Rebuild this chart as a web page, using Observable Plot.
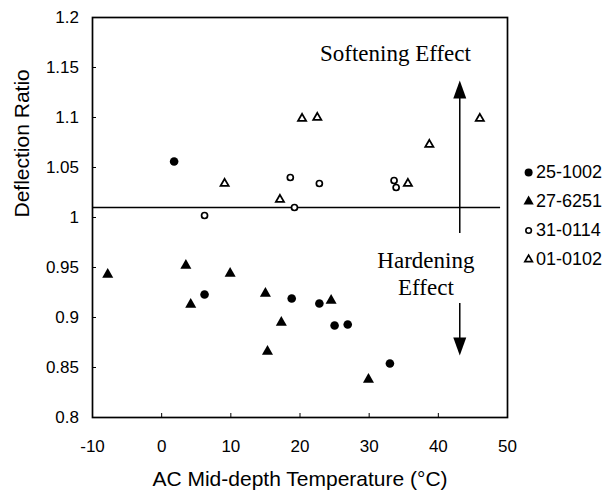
<!DOCTYPE html>
<html>
<head>
<meta charset="utf-8">
<script src="https://cdn.jsdelivr.net/npm/d3@7"></script>
<script src="https://cdn.jsdelivr.net/npm/@observablehq/plot@0.6"></script>
<style>
  html, body { margin: 0; padding: 0; background: #fff; }
  #wrap { position: relative; width: 610px; height: 497px; }
  #legend { position: absolute; left: 518px; top: 157px; }
</style>
</head>
<body>
<div id="wrap"><div id="chart"></div><div id="legend"></div></div>
<script>
const seriesNames = ["25-1002", "27-6251", "31-0114", "01-0102"];

const s25_1002_x = [1.8, 6.2, 18.8, 22.8, 25.0, 26.9, 33.0];
const s25_1002_y = [1.056, 0.923, 0.919, 0.914, 0.892, 0.893, 0.854];

const s27_6251_x = [-7.8, 3.5, 4.2, 9.9, 15.0, 15.3, 17.3, 24.5, 29.9];
const s27_6251_y = [0.943, 0.952, 0.913, 0.944, 0.924, 0.866, 0.895, 0.917, 0.838];

const s31_0114_x = [6.2, 18.6, 19.2, 22.8, 33.6, 33.9];
const s31_0114_y = [1.002, 1.040, 1.010, 1.034, 1.037, 1.030];

const s01_0102_x = [9.1, 17.1, 20.3, 22.5, 35.6, 38.7, 46.0];
const s01_0102_y = [1.034, 1.018, 1.099, 1.100, 1.034, 1.073, 1.099];

const xTicks = [-10, 0, 10, 20, 30, 40, 50];
const yTicks = [0.8, 0.85, 0.9, 0.95, 1, 1.05, 1.1, 1.15, 1.2];
const yTickLabels = ["0.8", "0.85", "0.9", "0.95", "1", "1.05", "1.1", "1.15", "1.2"];

const xTitle = ["AC Mid-depth Temperature (°C)"];
const yTitle = ["Deflection Ratio"];

const baselineValue = [1.01];
const baselineXRange = [-10, 49];

const arrowX = [43.1];
const upShaft = [0.984, 1.13];
const upHeadY = [1.126];
const downShaft = [0.914, 0.875];
const downHeadY = [0.873];

const annotations = [
  {label: "Softening Effect", x: 33.8, y: 1.164},
  {label: "Hardening", x: 38.2, y: 0.957},
  {label: "Effect", x: 38.2, y: 0.930}
];

function toRows(name, xs, ys) { return xs.map((x, i) => ({series: name, x, y: ys[i]})); }
const s1 = toRows(seriesNames[0], s25_1002_x, s25_1002_y);
const s2 = toRows(seriesNames[1], s27_6251_x, s27_6251_y);
const s3 = toRows(seriesNames[2], s31_0114_x, s31_0114_y);
const s4 = toRows(seriesNames[3], s01_0102_x, s01_0102_y);

// elongated filled arrowhead symbol pointing up
const arrowHead = {
  draw(ctx) {
    ctx.moveTo(0, -11);
    ctx.lineTo(6.5, 7);
    ctx.lineTo(-6.5, 7);
    ctx.closePath();
  }
};

const sans = "'Liberation Sans', Arial, sans-serif";
const serif = "'Liberation Serif', 'Times New Roman', serif";

const chart = Plot.plot({
  width: 610,
  height: 497,
  marginLeft: 92,
  marginRight: 103,
  marginTop: 17,
  marginBottom: 80,
  style: {fontFamily: sans, fontSize: "17px", color: "#000", background: "#fff"},
  x: {domain: [-10, 50]},
  y: {domain: [0.8, 1.2]},
  marks: [
    Plot.frame({stroke: "#000", strokeWidth: 1.7}),
    Plot.axisY({ticks: yTicks, tickFormat: (d) => yTickLabels[yTicks.indexOf(d)] ?? d,
      tickSize: -4, tickPadding: 17.5, label: null, fontSize: 17}),
    Plot.axisX({ticks: xTicks, tickFormat: (d) => String(d),
      tickSize: -4, tickPadding: 26.5, label: null, fontSize: 17}),
    Plot.text(xTitle, {frameAnchor: "bottom", dy: 68, text: (d) => d, fontSize: 21, fill: "#000"}),
    Plot.text(yTitle, {frameAnchor: "left", dx: -70, rotate: -90, text: (d) => d, fontSize: 21, fill: "#000"}),
    Plot.ruleY(baselineValue, {y: (d) => d, x1: baselineXRange[0], x2: baselineXRange[1], stroke: "#000", strokeWidth: 1.5}),
    Plot.ruleX(arrowX, {x: (d) => d, y1: upShaft[0], y2: upShaft[1], stroke: "#000", strokeWidth: 1.5}),
    Plot.ruleX(arrowX, {x: (d) => d, y1: downShaft[0], y2: downShaft[1], stroke: "#000", strokeWidth: 1.5}),
    Plot.dot(arrowX, {x: (d) => d, y: () => upHeadY[0], symbol: arrowHead, fill: "#000", stroke: "none", r: 5}),
    Plot.dot(arrowX, {x: (d) => d, y: () => downHeadY[0], symbol: arrowHead, fill: "#000", stroke: "none", r: 5, rotate: 180}),
    Plot.text(annotations, {x: "x", y: "y", text: "label", fontFamily: serif, fontSize: 23, fill: "#000"}),
    Plot.dot(s1, {x: "x", y: "y", symbol: "circle", r: 4.3, fill: "#000", stroke: "none"}),
    Plot.dot(s2, {x: "x", y: "y", symbol: "triangle", r: 4.1, fill: "#000", stroke: "none"}),
    Plot.dot(s3, {x: "x", y: "y", symbol: "circle", r: 3.0, fill: "#fff", stroke: "#000", strokeWidth: 1.7}),
    Plot.dot(s4, {x: "x", y: "y", symbol: "triangle", r: 3.0, fill: "#fff", stroke: "#000", strokeWidth: 1.8})
  ]
});
document.getElementById("chart").appendChild(chart);

// legend
const legendRows = seriesNames.map((name) => ({series: name}));
const legendStyles = {
  "25-1002": {symbol: "circle", fill: "#000", stroke: "none", r: 4, sw: 0},
  "27-6251": {symbol: "triangle", fill: "#000", stroke: "none", r: 3.8, sw: 0},
  "31-0114": {symbol: "circle", fill: "#fff", stroke: "#000", r: 2.8, sw: 1.6},
  "01-0102": {symbol: "triangle", fill: "#fff", stroke: "#000", r: 2.8, sw: 1.7}
};
const legend = Plot.plot({
  width: 92,
  height: 120,
  margin: 0,
  style: {fontFamily: sans, fontSize: "18px", color: "#000", background: "transparent"},
  x: {type: "linear", domain: [0, 1], range: [0, 92], axis: null},
  y: {type: "point", domain: seriesNames, range: [15, 102], padding: 0, axis: null},
  marks: seriesNames.map((name) => Plot.dot([{series: name}], {
      x: () => 0.11, y: "series", symbol: legendStyles[name].symbol, r: legendStyles[name].r,
      fill: legendStyles[name].fill, stroke: legendStyles[name].stroke, strokeWidth: legendStyles[name].sw
    })).concat([
    Plot.text(legendRows, {x: () => 0.19, y: "series", text: "series", textAnchor: "start", fontSize: 18, fill: "#000"})
  ])
});
document.getElementById("legend").appendChild(legend);
</script>
</body>
</html>
